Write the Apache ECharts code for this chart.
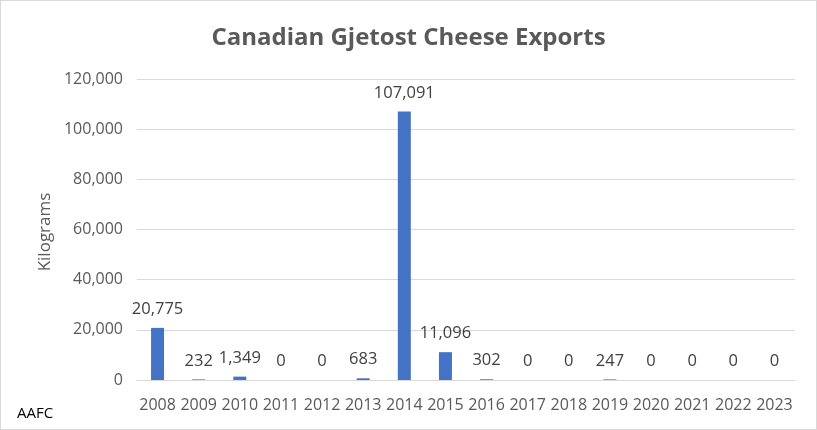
<!DOCTYPE html>
<html><head><meta charset="utf-8">
<script src="https://cdn.jsdelivr.net/npm/echarts@6/dist/echarts.min.js"></script>
<style>html,body{margin:0;padding:0;background:#fff}#c{width:817px;height:430px;box-sizing:border-box;border:1px solid #d9d9d9}</style>
</head><body><div id="c"></div>
<script>
const years = ['2008','2009','2010','2011','2012','2013','2014','2015','2016','2017','2018','2019','2020','2021','2022','2023'];
const kilograms = [20775,232,1349,0,0,683,107091,11096,302,0,0,247,0,0,0,0];
const yTicks = {min:0,max:120000,interval:20000};
const chart = echarts.init(document.getElementById('c'));
const fnt = '"Open Sans", "Liberation Sans", sans-serif';
chart.setOption({
  animation:false,
  title:{text:'Canadian Gjetost Cheese Exports',left:'center',top:20,textStyle:{fontFamily:fnt,fontSize:24,fontWeight:'bold',color:'#595959'}},
  graphic:[
    {type:'text',left:16,top:405,style:{text:'AAFC',font:'15px "Open Sans", sans-serif',fill:'#000'}},
    {type:'text',x:44,y:231,rotation:Math.PI/2,style:{text:'Kilograms',font:'17px "Open Sans", sans-serif',fill:'#595959',align:'center',verticalAlign:'middle'}}
  ],
  grid:{left:136,right:21,top:78,bottom:49},
  xAxis:{type:'category',data:years,axisTick:{show:false},axisLine:{lineStyle:{color:'#d9d9d9'}},
    axisLabel:{color:'#595959',fontSize:16,fontFamily:fnt,margin:17,interval:0}},
  yAxis:{type:'value',min:yTicks.min,max:yTicks.max,interval:yTicks.interval,
    splitLine:{lineStyle:{color:'#d9d9d9'}},
    axisLabel:{color:'#595959',fontSize:16,fontFamily:fnt,margin:14,formatter:v=>v.toLocaleString('en-US')}},
  series:[{type:'bar',data:kilograms,barWidth:13,itemStyle:{color:'#4472C4'},
    label:{show:true,position:'top',distance:10,color:'#404040',fontSize:16.5,fontFamily:fnt,formatter:p=>p.value.toLocaleString('en-US')}}]
});
</script></body></html>
